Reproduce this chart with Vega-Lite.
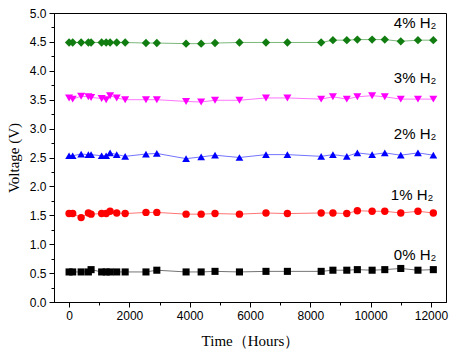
{
  "$schema": "https://vega.github.io/schema/vega-lite/v6.json",
  "width": 392,
  "height": 289,
  "autosize": "none",
  "padding": {"left": 54, "top": 13, "right": 6, "bottom": 54},
  "background": "white",
  "config": {
    "view": {"stroke": "black", "strokeWidth": 1},
    "axis": {
      "grid": false,
      "domainColor": "black",
      "tickColor": "black",
      "labelColor": "black",
      "titleColor": "black",
      "labelFont": "Liberation Sans",
      "labelFontSize": 12,
      "titleFont": "Liberation Serif",
      "titleFontSize": 15,
      "titleFontWeight": "normal"
    }
  },
  "datasets": {
    "pts": [
      {"series": "0%", "t": 0, "v": 0.52}, {"series": "0%", "t": 120, "v": 0.52}, {"series": "0%", "t": 400, "v": 0.52}, {"series": "0%", "t": 640, "v": 0.52}, {"series": "0%", "t": 730, "v": 0.56},
      {"series": "0%", "t": 1080, "v": 0.52}, {"series": "0%", "t": 1230, "v": 0.52}, {"series": "0%", "t": 1360, "v": 0.52}, {"series": "0%", "t": 1580, "v": 0.52}, {"series": "0%", "t": 1860, "v": 0.52},
      {"series": "0%", "t": 2550, "v": 0.52}, {"series": "0%", "t": 2910, "v": 0.55}, {"series": "0%", "t": 3880, "v": 0.52}, {"series": "0%", "t": 4380, "v": 0.52}, {"series": "0%", "t": 4840, "v": 0.53},
      {"series": "0%", "t": 5650, "v": 0.52}, {"series": "0%", "t": 6530, "v": 0.53}, {"series": "0%", "t": 7240, "v": 0.53}, {"series": "0%", "t": 8360, "v": 0.53}, {"series": "0%", "t": 8750, "v": 0.55},
      {"series": "0%", "t": 9210, "v": 0.55}, {"series": "0%", "t": 9560, "v": 0.56}, {"series": "0%", "t": 10050, "v": 0.55}, {"series": "0%", "t": 10470, "v": 0.56}, {"series": "0%", "t": 11000, "v": 0.58},
      {"series": "0%", "t": 11570, "v": 0.55}, {"series": "0%", "t": 12080, "v": 0.56},

      {"series": "1%", "t": 0, "v": 1.53}, {"series": "1%", "t": 120, "v": 1.53}, {"series": "1%", "t": 400, "v": 1.46}, {"series": "1%", "t": 640, "v": 1.54}, {"series": "1%", "t": 730, "v": 1.52},
      {"series": "1%", "t": 1080, "v": 1.53}, {"series": "1%", "t": 1230, "v": 1.53}, {"series": "1%", "t": 1360, "v": 1.57}, {"series": "1%", "t": 1580, "v": 1.54}, {"series": "1%", "t": 1860, "v": 1.53},
      {"series": "1%", "t": 2550, "v": 1.55}, {"series": "1%", "t": 2910, "v": 1.55}, {"series": "1%", "t": 3880, "v": 1.52}, {"series": "1%", "t": 4380, "v": 1.52}, {"series": "1%", "t": 4840, "v": 1.53},
      {"series": "1%", "t": 5650, "v": 1.52}, {"series": "1%", "t": 6530, "v": 1.54}, {"series": "1%", "t": 7240, "v": 1.53}, {"series": "1%", "t": 8360, "v": 1.54}, {"series": "1%", "t": 8750, "v": 1.54},
      {"series": "1%", "t": 9210, "v": 1.53}, {"series": "1%", "t": 9560, "v": 1.58}, {"series": "1%", "t": 10050, "v": 1.57}, {"series": "1%", "t": 10470, "v": 1.57}, {"series": "1%", "t": 11000, "v": 1.54},
      {"series": "1%", "t": 11570, "v": 1.57}, {"series": "1%", "t": 12080, "v": 1.54},

      {"series": "2%", "t": 0, "v": 2.53}, {"series": "2%", "t": 120, "v": 2.53}, {"series": "2%", "t": 400, "v": 2.56}, {"series": "2%", "t": 640, "v": 2.55}, {"series": "2%", "t": 730, "v": 2.55},
      {"series": "2%", "t": 1080, "v": 2.53}, {"series": "2%", "t": 1230, "v": 2.53}, {"series": "2%", "t": 1360, "v": 2.58}, {"series": "2%", "t": 1580, "v": 2.55}, {"series": "2%", "t": 1860, "v": 2.52},
      {"series": "2%", "t": 2550, "v": 2.56}, {"series": "2%", "t": 2910, "v": 2.57}, {"series": "2%", "t": 3880, "v": 2.48}, {"series": "2%", "t": 4380, "v": 2.51}, {"series": "2%", "t": 4840, "v": 2.54},
      {"series": "2%", "t": 5650, "v": 2.50}, {"series": "2%", "t": 6530, "v": 2.55}, {"series": "2%", "t": 7240, "v": 2.55}, {"series": "2%", "t": 8360, "v": 2.52}, {"series": "2%", "t": 8750, "v": 2.55},
      {"series": "2%", "t": 9210, "v": 2.52}, {"series": "2%", "t": 9560, "v": 2.58}, {"series": "2%", "t": 10050, "v": 2.55}, {"series": "2%", "t": 10470, "v": 2.58}, {"series": "2%", "t": 11000, "v": 2.54},
      {"series": "2%", "t": 11570, "v": 2.58}, {"series": "2%", "t": 12080, "v": 2.54},

      {"series": "3%", "t": 0, "v": 3.53}, {"series": "3%", "t": 120, "v": 3.51}, {"series": "3%", "t": 400, "v": 3.56}, {"series": "3%", "t": 640, "v": 3.55}, {"series": "3%", "t": 730, "v": 3.54},
      {"series": "3%", "t": 1080, "v": 3.52}, {"series": "3%", "t": 1230, "v": 3.50}, {"series": "3%", "t": 1360, "v": 3.57}, {"series": "3%", "t": 1580, "v": 3.53}, {"series": "3%", "t": 1860, "v": 3.50},
      {"series": "3%", "t": 2550, "v": 3.50}, {"series": "3%", "t": 2910, "v": 3.50}, {"series": "3%", "t": 3880, "v": 3.47}, {"series": "3%", "t": 4380, "v": 3.46}, {"series": "3%", "t": 4840, "v": 3.49},
      {"series": "3%", "t": 5650, "v": 3.49}, {"series": "3%", "t": 6530, "v": 3.53}, {"series": "3%", "t": 7240, "v": 3.53}, {"series": "3%", "t": 8360, "v": 3.51}, {"series": "3%", "t": 8750, "v": 3.55},
      {"series": "3%", "t": 9210, "v": 3.51}, {"series": "3%", "t": 9560, "v": 3.55}, {"series": "3%", "t": 10050, "v": 3.57}, {"series": "3%", "t": 10470, "v": 3.55}, {"series": "3%", "t": 11000, "v": 3.51},
      {"series": "3%", "t": 11570, "v": 3.51}, {"series": "3%", "t": 12080, "v": 3.51},

      {"series": "4%", "t": 0, "v": 4.49}, {"series": "4%", "t": 120, "v": 4.49}, {"series": "4%", "t": 400, "v": 4.49}, {"series": "4%", "t": 640, "v": 4.49}, {"series": "4%", "t": 730, "v": 4.49},
      {"series": "4%", "t": 1080, "v": 4.49}, {"series": "4%", "t": 1230, "v": 4.49}, {"series": "4%", "t": 1360, "v": 4.49}, {"series": "4%", "t": 1580, "v": 4.49}, {"series": "4%", "t": 1860, "v": 4.49},
      {"series": "4%", "t": 2550, "v": 4.48}, {"series": "4%", "t": 2910, "v": 4.48}, {"series": "4%", "t": 3880, "v": 4.47}, {"series": "4%", "t": 4380, "v": 4.47}, {"series": "4%", "t": 4840, "v": 4.48},
      {"series": "4%", "t": 5650, "v": 4.49}, {"series": "4%", "t": 6530, "v": 4.49}, {"series": "4%", "t": 7240, "v": 4.49}, {"series": "4%", "t": 8360, "v": 4.49}, {"series": "4%", "t": 8750, "v": 4.53},
      {"series": "4%", "t": 9210, "v": 4.53}, {"series": "4%", "t": 9560, "v": 4.54}, {"series": "4%", "t": 10050, "v": 4.54}, {"series": "4%", "t": 10470, "v": 4.54}, {"series": "4%", "t": 11000, "v": 4.51},
      {"series": "4%", "t": 11570, "v": 4.53}, {"series": "4%", "t": 12080, "v": 4.53}
    ],
    "labels": [
      {"label": "4% H₂", "t": 12180, "v": 4.74},
      {"label": "3% H₂", "t": 12180, "v": 3.79},
      {"label": "2% H₂", "t": 12180, "v": 2.82},
      {"label": "1% H₂", "t": 12080, "v": 1.77},
      {"label": "0% H₂", "t": 12180, "v": 0.73}
    ]
  },
  "layer": [
    {
      "data": {"name": "pts"},
      "mark": {"type": "line", "strokeWidth": 1, "strokeOpacity": 0.55},
      "encoding": {
        "x": {
          "field": "t", "type": "quantitative",
          "scale": {"domain": [-500, 12500], "nice": false, "zero": false},
          "axis": {"orient": "bottom", "values": [1000, 3000, 5000, 7000, 9000, 11000], "tickSize": 3, "labels": false, "title": null}
        },
        "y": {
          "field": "v", "type": "quantitative",
          "scale": {"domain": [0, 5], "nice": false},
          "axis": {"orient": "left", "values": [0.25, 0.75, 1.25, 1.75, 2.25, 2.75, 3.25, 3.75, 4.25, 4.75], "tickSize": 3, "labels": false, "title": null}
        },
        "color": {
          "field": "series", "type": "nominal",
          "scale": {"domain": ["0%", "1%", "2%", "3%", "4%"], "range": ["#000000", "#ff0000", "#0000ff", "#ff00ff", "#117d11"]},
          "legend": null
        },
        "order": {"field": "t", "type": "quantitative"}
      }
    },
    {
      "data": {"name": "pts"},
      "mark": {"type": "point", "filled": true, "opacity": 1},
      "encoding": {
        "x": {
          "field": "t", "type": "quantitative",
          "scale": {"domain": [-500, 12500], "nice": false, "zero": false},
          "axis": {"orient": "bottom", "values": [0, 2000, 4000, 6000, 8000, 10000, 12000], "format": "d", "tickSize": 5, "labelPadding": 3, "title": "Time（Hours）", "titlePadding": 12}
        },
        "y": {
          "field": "v", "type": "quantitative",
          "scale": {"domain": [0, 5], "nice": false},
          "axis": {"orient": "left", "values": [0, 0.5, 1, 1.5, 2, 2.5, 3, 3.5, 4, 4.5, 5], "format": ".1f", "tickSize": 5, "labelPadding": 3, "title": "Voltage (V)", "titlePadding": 8}
        },
        "color": {
          "field": "series", "type": "nominal",
          "scale": {"domain": ["0%", "1%", "2%", "3%", "4%"], "range": ["#000000", "#ff0000", "#0000ff", "#ff00ff", "#117d11"]},
          "legend": null
        },
        "shape": {
          "field": "series", "type": "nominal",
          "scale": {"domain": ["0%", "1%", "2%", "3%", "4%"], "range": ["square", "circle", "triangle-up", "triangle-down", "diamond"]},
          "legend": null
        },
        "size": {
          "field": "series", "type": "nominal",
          "scale": {"domain": ["0%", "1%", "2%", "3%", "4%"], "range": [50, 70, 75, 75, 70]},
          "legend": null
        }
      }
    },
    {
      "data": {"name": "labels"},
      "mark": {"type": "text", "align": "right", "baseline": "alphabetic", "font": "Liberation Sans", "fontSize": 15, "color": "black"},
      "encoding": {
        "x": {"field": "t", "type": "quantitative", "scale": {"domain": [-500, 12500], "nice": false, "zero": false}, "axis": null},
        "y": {"field": "v", "type": "quantitative", "scale": {"domain": [0, 5], "nice": false}, "axis": null},
        "text": {"field": "label"}
      }
    }
  ],
  "resolve": {"axis": {"x": "independent", "y": "independent"}}
}
